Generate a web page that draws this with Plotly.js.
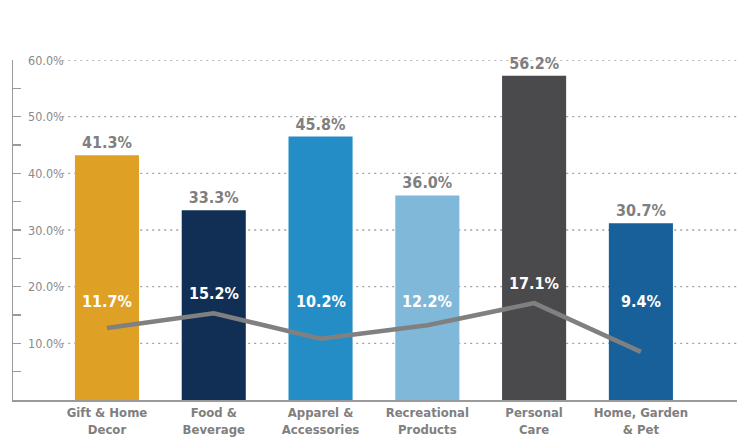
<!DOCTYPE html>
<html>
<head>
<meta charset="utf-8">
<script src="https://cdn.plot.ly/plotly-3.0.1.min.js"></script>
<style>html,body{margin:0;padding:0;background:#fff}#chart{width:737px;height:443px}</style>
</head>
<body>
<div id="chart"></div>
<script>
var categories = ["Gift & Home<br>Decor", "Food &<br>Beverage", "Apparel &<br>Accessories", "Recreational<br>Products", "Personal<br>Care", "Home, Garden<br>& Pet"];
var barValues = [43.2, 33.5, 46.5, 36.1, 57.2, 31.2];
var barLabels = ["41.3%", "33.3%", "45.8%", "36.0%", "56.2%", "30.7%"];
var lineValues = [12.7, 15.3, 10.8, 13.2, 17.1, 8.5];
var lineLabels = ["11.7%", "15.2%", "10.2%", "12.2%", "17.1%", "9.4%"];
var barColors = ["#DFA026", "#112F55", "#258DC6", "#7FB8D8", "#4A4A4C", "#17609A"];
var yTicks = [10, 20, 30, 40, 50, 60];
var yTickText = ["10.0%", "20.0%", "30.0%", "40.0%", "50.0%", "60.0%"];

var FONT = "'Liberation Sans Narrow', 'DejaVu Sans Condensed', 'Arial Narrow', sans-serif";
var idx = categories.map(function(_, i){ return i; });

var bars = {
  type: "bar", x: idx, y: barValues, width: 0.6,
  marker: {color: barColors},
  text: barLabels, textposition: "outside", cliponaxis: false,
  textfont: {family: FONT, size: 16, color: "#7f7f7f", weight: "bold"},
  hoverinfo: "none"
};
var line = {
  type: "scatter", mode: "lines", x: idx, y: lineValues,
  line: {color: "#808080", width: 4.5}, hoverinfo: "none"
};

var shapes = yTicks.map(function(v){
  return {type: "line", xref: "paper", x0: 0.068, x1: 1, yref: "y", y0: v, y1: v,
          line: {color: "#a0a0a0", width: 1.3, dash: "2px,4px"}, layer: "below"};
});
var annotations = idx.map(function(i){
  return {x: i, y: Math.max(lineValues[i] + 3.5, 17.4), xref: "x", yref: "y",
          text: lineLabels[i], showarrow: false,
          font: {family: FONT, size: 16, color: "#ffffff", weight: "bold"}};
});
yTicks.forEach(function(v, i){
  annotations.push({x: 0.018, xref: "paper", xanchor: "left", y: v, yref: "y",
    text: yTickText[i], showarrow: false,
    font: {family: FONT, size: 12.5, color: "#8a8a8a"}});
});

var layout = {
  width: 737, height: 443,
  margin: {l: 13, r: 0, t: 60, b: 43},
  paper_bgcolor: "#fff", plot_bgcolor: "#fff",
  showlegend: false, bargap: 0.4,
  xaxis: {
    range: [-0.88, 5.9], tickvals: idx, ticktext: categories,
    showline: true, linecolor: "#9a9a9a", linewidth: 1.5,
    ticks: "", showgrid: false, zeroline: false, fixedrange: true,
    tickfont: {family: FONT, size: 13, color: "#7f7f7f", weight: "bold"}
  },
  yaxis: {
    range: [0, 60], tickvals: yTicks, showticklabels: false,
    ticks: "inside", ticklen: 8, tickcolor: "#9a9a9a", tickwidth: 1.5,
    minor: {dtick: 5, ticks: "inside", ticklen: 8, tickcolor: "#9a9a9a", tickwidth: 1.5, showgrid: false},
    showline: true, linecolor: "#9a9a9a", linewidth: 1.5,
    showgrid: false, zeroline: false, fixedrange: true
  },
  shapes: shapes,
  annotations: annotations
};

Plotly.newPlot("chart", [bars, line], layout, {displayModeBar: false, staticPlot: true});
</script>
</body>
</html>
